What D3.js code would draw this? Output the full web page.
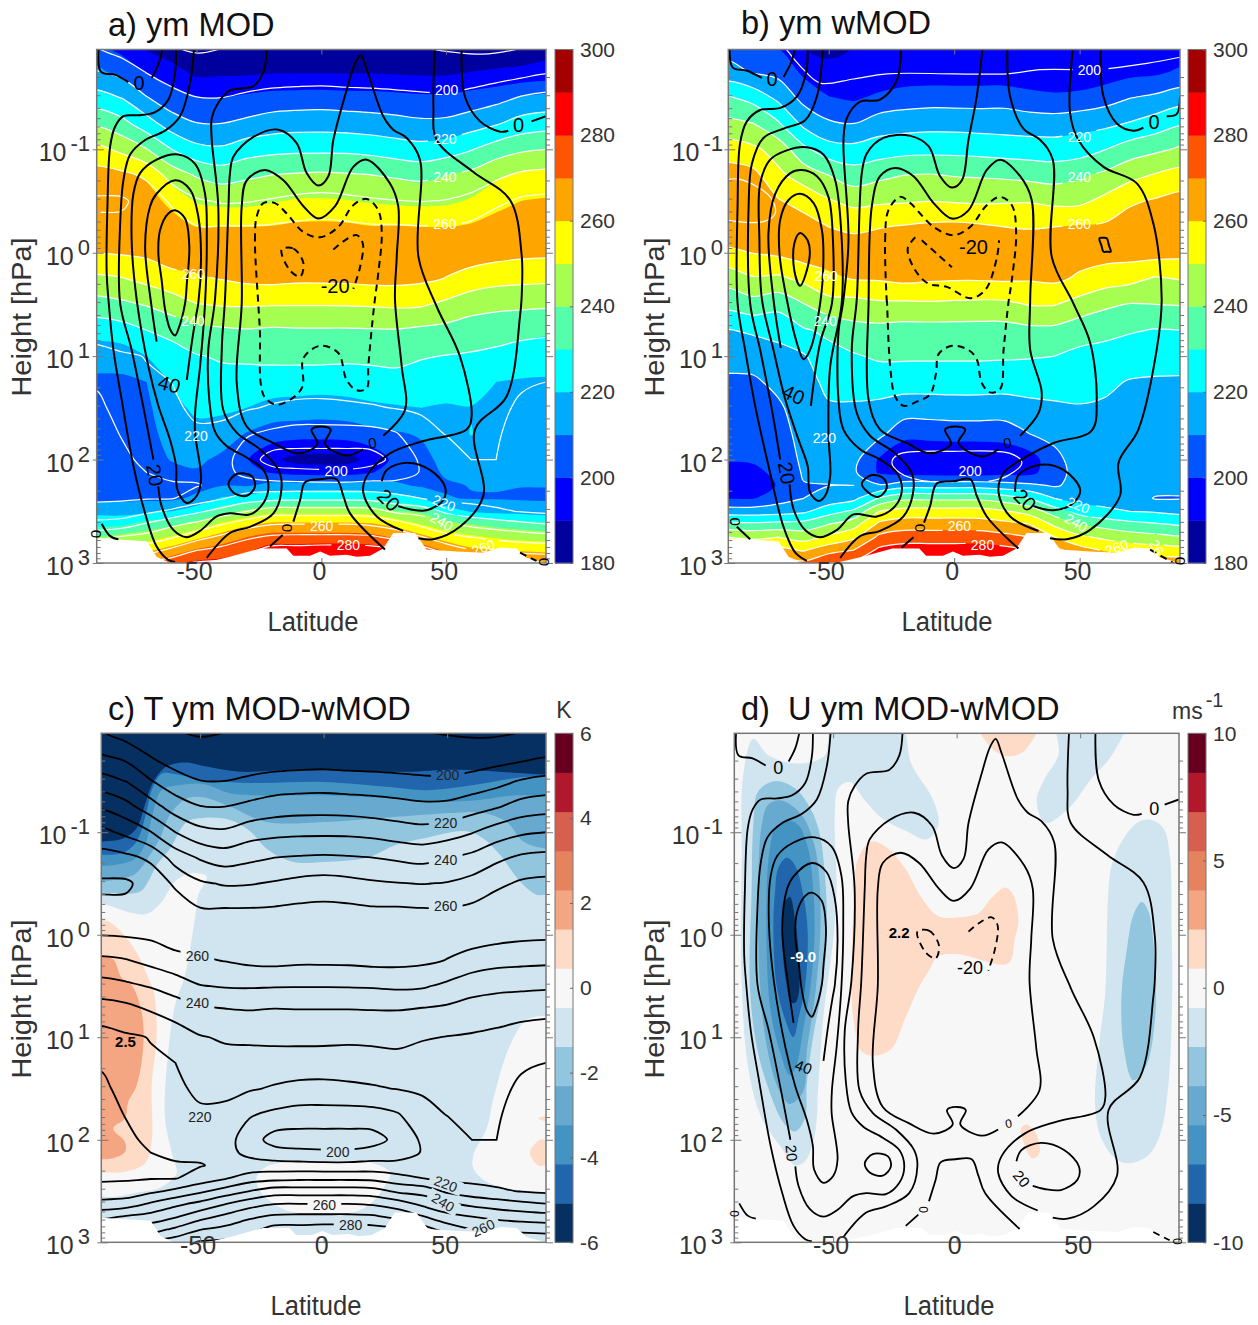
<!DOCTYPE html>
<html>
<head>
<meta charset="utf-8">
<script src="https://cdn.jsdelivr.net/npm/d3@7"></script>
<style>
  html, body { margin: 0; background: #fff; }
  text { font-family: "Liberation Sans", Arial, sans-serif; }
</style>
</head>
<body>
<svg id="fig" width="1258" height="1325"></svg>
<script>
const latCols = [-90,-80,-70,-60,-50,-40,-30,-20,-10,0,10,20,30,40,50,60,70,80,90];
const logPRows = [-2,-1.75,-1.5,-1.25,-1,-0.75,-0.5,-0.25,0,0.25,0.5,0.75,1,1.25,1.5,1.75,2,2.125,2.25,2.375,2.5,2.625,2.75,2.875,3];

// temperature by latitude column (K), top of the model to the ground
const tempA = [
[200,210.5,224,238.5,253,264,271.5,268,260.3,248,236,224,216.8,211,208,206,206,207,208,209,212.5,223.7,237,252,265],
[194,206.8,219.7,233.3,247.6,262.5,271.5,267.6,261,249.4,238,225.9,218.8,216,213,210.5,208,208,208.5,209,213.7,225,241,253.6,266],
[190,199.4,210.5,224.4,240.4,258.3,266,268,262,253,240.7,230,220.3,219,217,214,212,210,209,209.5,217.7,231.3,243.8,256,268.7],
[185,194.4,204,214.8,230,245.7,258.5,265,266,256.2,245,233,225.8,220,217.5,215,212,211,209.5,209.5,222,237.6,249,262,275.7],
[180,186,200.4,210.3,222.8,239,251.4,260.5,265,258.8,249.6,236.9,229.4,226,222.6,218,214,212,209.5,214,228,242.7,256.3,269.7,281],
[182,190,200,210,221.5,235.3,249,260.5,264,260.4,250.8,238.5,231,227,222,218,214,212.5,212,219,234,249.6,262.3,273,282],
[184,192.6,202,212.3,225.7,237.9,249.4,260.5,265,262.2,251,239.4,231.8,226,221,211,205,208,213,225,240,255.7,268.3,276.8,284],
[186,193.5,203.7,214.8,227.2,240.1,251,261,266,262.9,250.6,238.6,232.4,225.5,219,208,196,203.8,213.7,226.8,245,259.7,271.7,284,290],
[187,194,204.4,215.8,227.9,241,253,262,267,262,250.5,239,232.7,225,217.6,206,195.5,202,213.5,227.6,245,260,272.3,284,290],
[187,194.4,204.7,216,228,241.6,254,262.5,267,262,250.5,239,232.7,224.8,217.3,206,195.5,201.4,212.9,227.6,245,260,272.3,285,292],
[186,194,204,215.5,227.9,241,253,262,267,262.2,250.6,239,232,225.3,218,206,195.5,201.4,212.9,227.6,245,260,272.3,285,292],
[185,193.5,203.7,214.5,226.8,240.1,251.4,261,265,263,251,239.3,232.2,226,219,206.6,196,204,213.3,227,244,258.7,271.5,284,290],
[183,193,203,213.3,224.9,238.5,250.4,261,264,263,251.7,239.4,232,227.6,220.4,209.4,203,206,212.6,223.6,238,254.8,267.3,281,290],
[182,193,202,212,223.5,237,249.7,260.5,264,262,251.2,238,230.7,225.9,221.4,216.5,211.5,210.5,214,220,236,247.6,260.7,274.7,287],
[181,191,202,212.4,225.3,240,250.6,260.5,264,259.7,247.8,237,229.7,226.5,223.5,220.4,214.5,213,214,217,228,241.4,253.6,266,280],
[182,193,204,215.5,229.4,242.8,253.4,262,265.5,255.6,244,235,229,226.5,224,222,220,218,216.5,217,224,237.5,250,260.3,272],
[183,195,206.6,219,235,248,257.8,266,263.8,253.3,242.5,233.7,227.9,224.1,222,221,220,218,216,216,221.7,234.7,247.3,258.4,270],
[184,196.4,210.8,224,238.5,251.8,261.5,269.5,262.5,252.5,242,232.5,226.2,221,218.7,216.5,215,214,214,215.7,219.4,232.3,245.4,257.3,268],
[184,199,212.9,225.8,240,253,262.6,269.5,262,252,241.5,231.7,225.6,220,218.5,217,216,215,215,216,218,230.3,244,256.4,267.5]
];

// the shaded field of panel a sits a little off its own contour lines
const tempFillA = [
[203,212,224,238.5,253,264,268,266,260.3,248,236,224,214,208,206,204,204,205,206,207,217,227,240,254,266],
[196,207,219.7,233.3,247.6,262.5,268,266,261,249.4,238,225.9,214.5,208,206,205,205,205,206,208,216,228,244,256,268],
[188,199,210.5,224.4,240.4,258.3,265,267,262,253,240.7,230,220,210,208,207,206,206,206,208,218,234,246,258,270],
[183,194,204,214.8,230,245.7,257,265,266,256.2,245,233,226,221,217,213.5,210.5,207,206.5,208,220,238,251,264,277],
[181,187.5,200.4,210.3,222.8,239,249,260,265,258.8,249.6,236.9,229,226,222,216.8,212,209,207,212,226,244,258,271,282],
[182,188,200,210,221.5,235.3,247,260,264,260.4,250.8,238.5,231,227,222,215,208,207,209.5,221,236,252,264,275,283],
[183,188,202,212.3,225.7,237.9,247,260,265,262.2,251,239.4,231.8,226,220,209.5,201,203,209,224,242,258,270,278,285],
[184,189,203.7,214.8,227.2,240.1,249,260.5,266,262.9,250.6,238.6,232.4,225.5,217,205,192,199.5,213,228,247,262,274,285,291],
[185,189,204.4,215.8,227.9,241,251,262,267,262,250.5,239,232.7,225,216,204,187,197,214,229,247,262,274,285,292],
[185,189,204.7,216,228,241.6,251,262.5,267,262,250.5,239,232.7,224.8,215,204,186,196,215,229,247,262,274,286,294],
[184,189,204,215.5,227.9,241,250.5,262,267,262.2,250.6,239,232,225.3,216,204.5,186.5,196,215,229,247,262,274,286,294],
[183,189,203.7,214.5,226.8,240.1,249,260.5,265,263,251,239.3,232.2,226,218,207,193,199.5,214,228,246,261,273,285,291],
[182,188.5,203,213.3,224.9,238.5,248,260.5,264,263,251.7,239.4,232,227.6,219,209,203,204.5,212,225,240,257,269,282,291],
[181,188,202,212,223.5,237,247.5,260,264,262,251.2,238,230.7,225.9,220,211,207,207,208.5,220,238,250,263,276,288],
[181,188,202,212.4,225.3,240,248,260,264,259.7,247.8,237,229.7,225,219,216,213,211,209,210.5,226,244,256,268,281],
[182,190,204,215.5,229.4,242.8,251,261.5,265.5,255.6,244,235,229,226,219.5,220.3,216,213,210.3,209.5,219,240,252,262,273],
[183,191,206.6,219,235,248,256,265,263.8,253.3,242.5,233.7,227.9,220,218,216,214,212,210.5,209.5,217,237,249,260,271],
[183,192,210.8,224,238.5,251.8,260,268,262.5,252.5,242,232.5,226.2,219,217,215,213,212,210.2,209,216,235,247,259,269],
[186,193,212.9,225.8,240,253,261,268,262,252,241.5,231.7,224,219,217,215,213,212,210.2,209,214,233,246,258,269]
];

const tempB = [
[205,214,231,242.5,255,265,268,267,258,244,233,219.5,213,208.5,206,203.5,200.4,198,197,199.5,215,233,250,262,272],
[200,209,226.5,240,252,263,268,268,260.3,249,236,221.5,214,208.5,206,204,201,198,196.5,199.5,215,232,248,260,270],
[199,207,217.4,231,246,252,260.8,266,262,248,233,223,216.8,212.5,208.5,206,203.5,202,200.5,205.5,216,233,250,263,274],
[190,198,206.8,217.5,232.5,246,256,264.8,265,252.5,239.5,229,219,216.5,215,213.5,212,211,209.5,210,218,234,246,259,272],
[188,192,200.5,211.5,224,240,251,260,264.5,258,246,232,226.8,222.2,219,216.5,213.5,212,209.8,214,226,240,252,266,280],
[190,192.5,198.5,210,223,234.6,247,258.6,264,260.6,246,236.7,229,223,219,216,213,211.5,210,217.5,232,246,258,270,282],
[190,192.5,202,215,225,237.5,248.5,259.6,265,261,248,237,231.5,224,218,212.8,199,199,211,231,250,262,272,282,290],
[190,193,204.9,215.9,226.5,240,249,260.8,266,262.6,248,236,231.5,224,215.5,203.3,191,196,216,238,254,265.5,275,285,290],
[190,193.5,205.7,216.6,227,240.6,249.8,262,267,261.5,248.5,236,231.4,224,215.5,203.3,191,195.5,216,238,254,265.5,275,285,291],
[190,193.5,205.6,216.5,227,239.5,249.2,262.5,267,261,248,236,231.4,224,216,204,191,195,216,238,254,265.5,275,285,291],
[190,193.5,205.6,216,226.5,239,248.6,261.5,267,261,247.6,236,231.4,224,216,204,191,195,216,238,254,265,275,285,291],
[190,193,206,215.7,225.5,238.3,249,260,265.5,261.5,247.8,236,231.2,223.5,216,204,193,197,214,235,251,263,273,283,289],
[190,192,203.6,215,225,237,249.3,259.5,265,261,250.5,237.5,230.7,224,217.5,210,195,197,212,230,246,260,270,280,288],
[190,192,202,215,224.5,236,247.5,260,264.5,262,250.5,237.5,230,224,218.5,213,207,206,209,220,235,248,260,273,286],
[190,192,203,216.5,225.5,238.5,247.7,261,264,258.5,246,234,227.7,222.8,219.5,217,215,214,213,216,226,240,252,264,277],
[190,194,206,217.5,229.7,242.1,252.7,261.5,264,255,241.8,232.8,226.3,221.5,219,217,215,214.5,214,216,222,236,248,259,270],
[190,197,209.7,220.7,235,247,258.5,265,264,253,239.5,231,224,219.5,218,216.5,215,214.5,214,215,220,233,245,256,268],
[191,198,212,224.5,238,250.8,261,265.5,264,249,240,229.4,223.6,219,218,217,215.5,214,213,209.5,219,231,243,255,266],
[193,201.5,215.5,229,241.3,254,263.5,267,263,250.5,240.5,229.9,223,219,218,216.5,215,214,212,209.5,217,229,241,254,265]
];

// short isotherms that fall outside the shaded grid, as [lat, log10 hPa]
const isoExtraA = [
  [[-57.5,-1.98],[-49.4,-1.93],[-39.3,-1.98]],
  [[40.4,-1.98],[64.6,-1.92],[80.8,-1.98]]
];
const isoExtraB = [
  [[-67.3,-1.98],[-60,-1.77],[-53.4,-1.64],[-40.1,-1.68],[-26.8,-1.73],[-0.3,-1.73],[21,-1.73],[34.3,-1.77],[47.5,-1.77]],
  [[61.5,-1.78],[76.8,-1.83],[90,-1.89]],
  [[-0.3,2.22],[-13.5,2.2],[-21.5,2.13],[-24.8,2.03],[-22.2,1.95],[-0.3,1.92],[22.3,1.94],[27,2.03],[21,2.16],[13.7,2.21]],
  [[-92,-0.7],[-85.3,-0.71],[-73.3,-0.54],[-71.3,-0.38],[-76,-0.3],[-92,-0.32]]
];

// zonal wind contours: level, closed?, [lat, log10 hPa] ...
const uLinesA = [
[0,0,[[-89.3,-1.96],[-88.3,-1.75],[-82.6,-1.72],[-77.3,-1.65]]],
[0,0,[[-68,-1.69],[-65.3,-1.82],[-63.6,-1.98]]],
[20,0,[[-58.2,-1.98],[-58.6,-1.74],[-61.3,-1.48],[-66.6,-1.36],[-72.6,-1.33],[-79.3,-1.32],[-82.6,-1.22],[-84.6,-1.03],[-85.7,-0.45],[-86,0.2],[-85.3,0.45],[-83.3,0.94],[-80,1.42],[-75.3,2.06],[-70.6,2.52],[-66,2.84],[-61.3,2.97],[-58.6,2.99]]],
[20,0,[[-51,-1.98],[-52.6,-1.64],[-56.6,-1.32],[-62.6,-1.18],[-70.6,-1.09],[-76.6,-0.95],[-79.3,-0.7],[-80.6,-0.28],[-80.6,0.49],[-76,0.94],[-70.6,1.58],[-67.3,2]]],
[20,0,[[-65.3,2.26],[-64,2.45],[-59.3,2.68],[-53.9,2.75],[-48.6,2.69],[-41.9,2.55],[-36.6,2.52],[-28.6,2.53],[-23.2,2.42],[-21.2,2.26],[-23.2,2.1],[-29.9,1.98],[-37.9,1.87],[-42.6,1.73],[-44.9,1.42],[-45.3,0.94],[-42.6,0.45],[-41.3,-0.45],[-43.9,-1.09],[-43.9,-1.3],[-41.3,-1.45],[-36.6,-1.57],[-27.2,-1.61],[-23.2,-1.75],[-21.9,-1.98]]],
[40,1,[[-75.3,-0.57],[-72.6,-0.77],[-66,-0.9],[-57.3,-0.95],[-50.6,-0.86],[-46.6,-0.57],[-45.9,-0.12],[-46.6,0.49],[-48.6,1.1],[-50.5,1.52],[-50.6,1.74],[-48.2,2.19],[-49.9,2.35],[-53.9,2.42],[-57.7,2.29],[-58.2,2.06],[-60.6,1.81],[-65.3,1.48],[-69.3,1.1],[-74,0.45],[-76,-0.12]]],
[40,0,[[-66,0.86],[-68.2,0.49],[-70.6,-0.06],[-68.6,-0.45],[-66,-0.57],[-58.6,-0.7],[-52.6,-0.61],[-49.3,-0.35],[-48.2,0.04],[-49.3,0.49],[-50.2,0.61],[-51.9,0.87],[-53.9,1.23]]],
[60,1,[[-65.3,0.01],[-64.6,-0.22],[-61.3,-0.38],[-58.6,-0.41],[-54.6,-0.33],[-52.9,-0.06],[-53.9,0.3],[-54.6,0.49],[-57.3,0.74],[-58.6,0.8],[-60.6,0.74],[-62.6,0.55],[-64,0.26]]],
[0,0,[[-45.9,2.95],[-36.6,2.71],[-28.6,2.65],[-19.2,2.52],[-15.9,2.26],[-17.2,2.1],[-24.6,1.9],[-33.9,1.74],[-39.3,1.52],[-39.9,0.94],[-38.6,0.45],[-37.2,-0.45],[-36.6,-0.77],[-35.2,-0.93],[-27.2,-1.12],[-17.2,-1.19],[-9.9,-1.06],[-5.9,-0.77],[-1.2,-0.65],[2.8,-0.74],[4.8,-1.09],[10.1,-1.57],[13.5,-1.83],[15.8,-1.91],[18.2,-1.77],[24.8,-1.32],[28.8,-1.19],[34.2,-1.11],[39.5,-0.9],[38.9,0.04],[46.2,0.52],[55.5,1],[60.2,1.58],[58.2,1.71],[40.9,1.82],[27.5,1.94],[18.2,2.16],[16.8,2.32],[22.2,2.55],[32.8,2.69]]],
[0,0,[[38.9,2.76],[44.9,2.77],[55.5,2.65],[64.9,2.35],[61.5,1.71],[74.2,1.39],[79.6,0.61],[80.2,0.45],[80.2,0.01],[75.6,-0.51],[60.9,-0.78],[46.2,-1.09],[44.9,-1.41],[45.5,-1.98]]],
[0,0,[[24.8,1.77],[33.5,1.52],[32.2,1.1],[29.5,0.45],[30.2,0.04],[30.8,-0.45],[27.5,-0.67],[18.2,-0.9],[12.8,-0.83],[5.5,-0.45],[-1.2,-0.33],[-7.2,-0.45],[-15.2,-0.7],[-22.6,-0.8],[-29.9,-0.7],[-31.9,-0.45],[-31.9,0.49],[-33.9,1.26],[-29.9,1.68],[-19.2,1.84],[-9.2,1.94],[-1.6,1.85],[-3.9,1.71],[0.1,1.68],[3.7,1.71],[1.5,1.85],[10.1,1.96],[16.8,1.9]]],
[60,1,[[-37.2,2.23],[-33.9,2.14],[-27.9,2.16],[-26.6,2.26],[-29.9,2.35],[-35.2,2.32]]],
[20,0,[[24.2,2.21],[26.2,2.1],[34.2,2.03],[43.5,2.1],[49.5,2.26],[48.9,2.39],[42.2,2.49],[35.5,2.48],[30.8,2.45]]],
[-20,1,[[-25.2,0.52],[-26.6,-0.12],[-25.9,-0.35],[-23.2,-0.48],[-18.6,-0.48],[-13.9,-0.38],[-7.2,-0.2],[-0.5,-0.15],[6.8,-0.25],[12.8,-0.46],[18.2,-0.52],[22.8,-0.41],[24.2,-0.19],[22.8,0.2],[21.1,0.52],[18.8,1.1],[18.2,1.31],[14.2,1.33],[10.1,1.23],[6.8,0.97],[-0.5,0.9],[-7.2,1.02],[-7.5,1.29],[-11.2,1.4],[-17.9,1.47],[-22.6,1.4],[-24.3,1.26],[-24.6,0.77]]],
[-20,1,[[-15.9,-0.03],[-11.2,-0.04],[-7.2,0.1],[-8.5,0.23],[-12.6,0.17]]],
[-20,0,[[4.8,-0.03],[8.8,-0.11],[14.2,-0.17],[16.6,-0.09],[15.5,0.14],[12.8,0.35]]],
[0,0,[[25.5,2.87],[11.5,2.52],[8.8,2.35],[6.1,2.19],[-0.5,2.19],[-6.5,2.22],[-8.5,2.39],[-11.2,2.6]]],
[0,0,[[-15.5,2.73],[-20.6,2.84]]],
[0,0,[[56.2,-1.98],[57.5,-1.51],[63.6,-1.27],[71.6,-1.17],[74.9,-1.18]]],
[0,0,[[84.2,-1.27],[90,-1.32]]],
[0,0,[[-88,2.62],[-84.6,2.74],[-81.3,2.77]]],
[-20,0,[[79.6,2.9],[86.2,2.98]]]
];

const uLinesB = [
[0,0,[[-89.5,-1.96],[-88.2,-1.79],[-82.6,-1.76],[-76.6,-1.69]]],
[0,0,[[-68,-1.7],[-65.1,-1.83],[-63.3,-1.98]]],
[20,0,[[-58.4,-1.98],[-59,-1.74],[-62.7,-1.51],[-69.3,-1.4],[-77.3,-1.38],[-82.6,-1.27],[-85.3,-1.06],[-86.3,-0.45],[-86.3,0.49],[-83.3,0.94],[-79.3,1.48],[-74,2.06],[-68,2.65],[-63.3,2.9],[-58.7,2.98]]],
[20,0,[[-52.3,-1.98],[-54.7,-1.51],[-59.4,-1.28],[-68,-1.2],[-76,-1.11],[-80.6,-0.86],[-81.9,-0.45],[-81.3,0.49],[-77.3,0.94],[-72.6,1.52],[-69.3,2]]],
[20,0,[[-65.6,2.24],[-64,2.48],[-59.4,2.68],[-53.4,2.75],[-46.7,2.68],[-40.1,2.53],[-30.8,2.55],[-23.5,2.45],[-20.8,2.29],[-22.8,2.13],[-29.5,2],[-37.5,1.9],[-44.1,1.71],[-46.1,1.42],[-46.1,0.77],[-44.1,0.45],[-42.1,-0.12],[-44.1,-1.09],[-42.8,-1.3],[-37.5,-1.46],[-29.5,-1.48],[-22.8,-1.67],[-21.2,-1.98]]],
[40,1,[[-77.3,-0.67],[-73.3,-0.9],[-66.7,-0.99],[-58.7,-1.02],[-52.1,-0.95],[-47.4,-0.7],[-44.8,-0.12],[-44.8,0.49],[-49.4,1.1],[-50.1,1.74],[-49.4,2.16],[-51.4,2.35],[-54,2.4],[-57.4,2.32],[-58.4,2.06],[-62,1.81],[-67.3,1.42],[-72,0.94],[-76.6,0.45],[-77.6,-0.12]]],
[40,0,[[-69.1,0.92],[-72,0.45],[-74,-0.19],[-71.3,-0.57],[-65.3,-0.77],[-60.7,-0.8],[-54.7,-0.74],[-50.1,-0.54],[-48.3,-0.12],[-48.7,0.49],[-53.4,0.87],[-57.1,1.48]]],
[60,1,[[-69.3,-0.32],[-66,-0.51],[-61.4,-0.57],[-56,-0.48],[-52.7,-0.22],[-52.1,0.07],[-53.4,0.49],[-57.4,0.94],[-60,1.03],[-62.7,0.87],[-66.7,0.45],[-69.6,0.01]]],
[80,1,[[-61.4,-0.19],[-58.4,-0.12],[-57.6,0.04],[-61.4,0.32],[-63.7,0.17],[-63.7,-0.09]]],
[0,0,[[-45.4,2.95],[-37.5,2.74],[-29.5,2.69],[-20.2,2.55],[-16.2,2.29],[-16.9,2.13],[-23.5,1.94],[-33.5,1.77],[-38.8,1.55],[-40.8,0.94],[-38.8,0.45],[-36.8,-0.77],[-34.8,-0.96],[-28.2,-1.11],[-17.5,-1.13],[-10.2,-1.03],[-5.6,-0.74],[-0.9,-0.63],[3.1,-0.7],[5.7,-1.09],[9,-1.51],[11.3,-1.98]]],
[0,0,[[21.2,-1.98],[22.3,-1.51],[27.6,-1.2],[34.3,-1.09],[39.3,-0.9],[38.9,0.04],[47.5,0.49],[54.2,0.87],[56.8,1.42],[54.8,1.72],[39.6,1.84],[29,1.97],[19.7,2.13],[17.7,2.32],[22.3,2.55],[33.6,2.69]]],
[0,0,[[38.2,2.76],[44.9,2.77],[54.2,2.68],[66.1,2.35],[65.5,2.03],[73.4,1.71],[80.7,0.94],[82.7,0.45],[79.4,-0.28],[72.8,-0.67],[59.5,-0.83],[49.5,-1.09],[46.2,-1.35],[47.3,-1.98]]],
[0,0,[[26.3,1.77],[33.6,1.55],[34.9,1.35],[30.3,0.94],[30.3,0.45],[30.9,-0.51],[26.3,-0.74],[18.3,-0.9],[13,-0.8],[5.7,-0.41],[-0.9,-0.33],[-8.2,-0.48],[-16.2,-0.74],[-23.5,-0.82],[-29.5,-0.74],[-32.8,-0.45],[-34.1,0.49],[-34.1,1.42],[-29.5,1.71],[-18.9,1.84],[-9.6,1.94],[-1.3,1.85],[-3.6,1.71],[0.4,1.68],[4.4,1.71],[1.7,1.84],[11,1.97],[17.7,1.9]]],
[60,1,[[-36.8,2.23],[-32.8,2.15],[-28.2,2.18],[-26.8,2.27],[-30.1,2.36],[-34.1,2.32]]],
[20,0,[[24.3,2.31],[25.6,2.15],[34.3,2.05],[43.6,2.1],[50.2,2.29],[47.5,2.42],[39.6,2.49],[31.6,2.45]]],
[-20,1,[[-26.8,0.49],[-27.5,-0.12],[-26.2,-0.41],[-21.5,-0.54],[-17.5,-0.48],[-8.2,-0.25],[-0.3,-0.17],[6.4,-0.25],[13,-0.46],[18.3,-0.54],[23,-0.46],[24.7,-0.19],[23,0.26],[21.6,0.49],[19.7,0.94],[18.3,1.32],[14.3,1.35],[11,1.26],[9,1.03],[5.7,0.94],[-0.9,0.9],[-6.2,0.98],[-7.2,1.16],[-9.6,1.37],[-14.9,1.44],[-20.2,1.48],[-23.5,1.39],[-25.5,1.1],[-26.8,0.45]]],
[-20,0,[[-12.9,-0.12],[-6.9,0.01],[-0.9,0.14]]],
[-20,0,[[-15.5,-0.15],[-18.5,-0.04],[-15.5,0.17],[-10.2,0.3],[-2.9,0.33],[6.4,0.44],[12.4,0.36],[17,0.05],[17.9,-0.12]]],
[0,1,[[57.9,-0.14],[59.4,-0.145],[60.8,-0.14],[61.7,-0.07],[62.4,-0.01],[61,-0.01],[59.5,-0.01],[58.7,-0.07]]],
[0,0,[[25.6,2.86],[13,2.55],[9,2.35],[6.4,2.19],[-0.3,2.21],[-6.9,2.23],[-9.6,2.45],[-12,2.61]]],
[0,0,[[-16.2,2.75],[-20.9,2.85]]],
[0,0,[[58.4,-1.98],[59.5,-1.51],[64.8,-1.25],[71.4,-1.18],[75.4,-1.21]]],
[0,0,[[84.7,-1.32],[88.7,-1.34],[90,-1.51]]],
[0,0,[[-86.6,2.65],[-81.3,2.77]]],
[-20,0,[[78.1,2.87],[87.4,3]]]
];

// contour labels: text, lat, log10 hPa, rotation
const tLabelsA = [['200',50.2,-1.57,0],['220',49.5,-1.1,0],['240',49.5,-0.73,0],['260',49.5,-0.28,0],['260',-51.3,0.21,0],['240',-51.5,0.66,0],['220',-50.2,1.77,0],['200',5.9,2.11,0],['220',49.1,2.42,22],['240',48.2,2.6,30],['260',0.1,2.64,0],['280',10.8,2.83,0],['260',64.9,2.85,-20]];
const tLabelsB = [['200',53.9,-1.77,0],['220',49.9,-1.12,0],['240',49.9,-0.73,0],['260',49.9,-0.28,0],['260',-51,0.22,0],['240',-51.4,0.66,0],['220',-51.7,1.79,0],['200',6.4,2.11,0],['220',49.5,2.44,22],['240',48.6,2.61,30],['260',2.1,2.64,0],['280',11.3,2.83,0],['260',64.8,2.85,-20],['26',80.7,2.85,60]];
const tLabelsC = [['200',50.2,-1.56,0],['220',49.4,-1.09,0],['240',49.4,-0.73,0],['260',49.4,-0.28,0],['260',-51.1,0.21,0],['240',-51.1,0.67,0],['220',-50.1,1.78,0],['200',5.7,2.12,0],['220',49.4,2.43,20],['240',48.4,2.61,30],['260',0.3,2.64,0],['280',10.9,2.83,0],['260',64.6,2.86,-25]];
const uLabelsA = [['0',-73,-1.64,0],['0',79,-1.24,0],['-20',5.5,0.32,0],['40',-60.9,1.27,15],['20',-66.6,2.15,80],['20',27,2.39,45],['0',20.5,1.84,-10],['0',-13.6,2.66,90],['0',-90.2,2.72,90],['0',89.2,2.99,90]];
const uLabelsB = [['0',-72.6,-1.68,0],['0',79.7,-1.27,0],['-20',7.7,-0.06,0],['40',-64,1.37,25],['20',-66.7,2.13,80],['20',28.3,2.39,45],['0',21.2,1.84,-10],['0',-13.5,2.66,90],['0',-87.3,2.6,90],['0',90,2.98,90]];
const uLabelsD = [['0',-72.2,-1.63,0],['0',80,-1.23,0],['-20',5.4,0.32,0],['40',-62,1.29,20],['20',-66.8,2.13,85],['20',26.3,2.38,50],['0',21,1.84,-10],['0',-13.5,2.68,90],['0',-90,2.72,90],['0',89.5,2.99,90]];

// ground height, shown white in every panel
const surfaceLat = [-90,-70,-66,-60.6,-47.3,-36.6,-24.6,-13.9,-11.2,-4.5,-0.5,3.5,10.1,14.2,19.5,24.8,28.8,37.5,42.2,54.2,64.9,71.6,78.2,82.2,90];
const surfaceLogP = [2.76,2.79,2.94,3,3,2.94,2.86,2.86,2.93,2.93,2.89,2.93,2.92,2.94,2.93,2.86,2.71,2.71,2.87,2.89,2.9,2.85,2.86,2.95,3];

const tempBands = ['#00009f','#0000ff','#0055ff','#00aaff','#00ffff','#55ffaa','#a6ff50','#ffff00','#ffa500','#ff5500','#ff0000','#a50000'];
const tempThresholds = [190,200,210,220,230,240,250,260,270,280,290];
const diffBands = ['#053061','#2166ac','#4393c3','#67a9cf','#92c5de','#d1e5f0','#f7f7f7','#fddbc7','#f4a582','#e5835f','#d6604d','#b2182b','#67001f'];

// difference patches: colour band index (0 = strongest cooling), outline as [lat, log10 hPa]
const diffPatchesT = [
[6,[[-92,-0.32],[-90,-0.31],[-72.3,-0.2],[-65.6,-0.32],[-60.2,-0.52],[-54.1,-0.6],[-47.4,-0.57],[-50.7,-0.39],[-52.1,-0.16],[-56.1,0.39],[-60.2,0.69],[-62.9,1.14],[-64.2,1.79],[-60.9,2.18],[-59.5,2.33],[-65.6,2.46],[-74.4,2.51],[-92,2.51]]],
[6,[[-27.1,2.36],[-23.1,2.26],[-0.1,2.21],[20.1,2.23],[26.9,2.33],[24.2,2.47],[20.1,2.6],[13.4,2.7],[-0.1,2.72],[-13.6,2.7],[-23.1,2.57],[-26.5,2.47]]],
[6,[[90,0.79],[82.2,0.83],[75.4,1.08],[68.7,1.6],[66,1.89],[60.6,2.15],[60.6,2.28],[66,2.41],[74.1,2.47],[90,2.51],[93,2.51],[93,0.79]]],
[7,[[-92,-0.15],[-90,-0.15],[-85.8,-0.11],[-79.8,0.03],[-74.4,0.23],[-71,0.42],[-68.7,0.56],[-67.6,0.98],[-69.6,1.47],[-69.6,2.02],[-72.3,2.23],[-79.8,2.31],[-90,2.32],[-92,2.32]]],
[8,[[-92,0.21],[-90,0.21],[-85.2,0.24],[-81.8,0.42],[-77.7,0.49],[-73.7,0.75],[-73,1.08],[-75.7,1.47],[-79.1,1.63],[-80.4,1.79],[-85.2,1.89],[-80.4,2.02],[-80.4,2.12],[-85.2,2.18],[-90,2.19],[-92,2.19]]],
[7,[[86.9,1.79],[90,1.77],[92,1.8],[90,1.82]]],
[7,[[83.5,2.12],[87.6,2],[90,2],[92,2],[92,2.25],[90,2.25],[86.9,2.25]]],
[4,[[-93,-0.41],[-90,-0.41],[-74.4,-0.42],[-71,-0.52],[-67.6,-0.68],[-62.2,-0.84],[-55.5,-1.1],[-48.7,-1.14],[-37.9,-1.12],[-29.8,-1.01],[-23.1,-0.84],[-12.3,-0.71],[-0.1,-0.71],[17.4,-0.75],[29.6,-0.88],[40.4,-0.94],[57.9,-1.01],[64.6,-0.94],[71.4,-0.78],[79.5,-0.52],[86.2,-0.39],[90,-0.39],[93,-0.39],[93,-2.3],[-93,-2.3]]],
[3,[[-93,-0.52],[-90,-0.52],[-77.1,-0.58],[-73,-0.68],[-70.3,-0.78],[-66.3,-0.94],[-62.2,-1.17],[-55.5,-1.33],[-48.7,-1.34],[-37.9,-1.25],[-23.1,-1.1],[-0.1,-1.1],[13.4,-1.12],[40.4,-1.17],[53.8,-1.19],[64.6,-1.19],[74.1,-1.1],[80.8,-0.91],[90,-0.84],[93,-0.84],[93,-2.3],[-93,-2.3]]],
[2,[[-93,-0.67],[-90,-0.67],[-77.1,-0.73],[-72.3,-0.88],[-69.6,-1.14],[-65.6,-1.41],[-58.2,-1.46],[-48.7,-1.47],[-37.9,-1.38],[-27.1,-1.36],[-0.1,-1.36],[26.9,-1.33],[41.7,-1.3],[60.6,-1.31],[78.1,-1.36],[90,-1.35],[93,-1.35],[93,-2.3],[-93,-2.3]]],
[1,[[-93,-0.78],[-90,-0.78],[-81.1,-0.8],[-75.7,-0.91],[-71.7,-1.2],[-69.6,-1.41],[-65.6,-1.57],[-60.9,-1.57],[-48.7,-1.51],[-27.1,-1.48],[-0.1,-1.49],[26.9,-1.44],[41.7,-1.41],[60.6,-1.46],[78.1,-1.53],[90,-1.55],[93,-1.55],[93,-2.3],[-93,-2.3]]],
[0,[[-93,-0.91],[-90,-0.91],[-81.1,-0.94],[-75.7,-1.04],[-72.3,-1.27],[-69,-1.49],[-63.6,-1.64],[-56.1,-1.68],[-47.4,-1.64],[-33.9,-1.59],[-13.6,-1.61],[13.4,-1.6],[33.6,-1.59],[53.8,-1.61],[90,-1.56],[93,-1.56],[93,-2.3],[-93,-2.3]]]
];

const diffPatchesU = [
[5,[[-87,0.49],[-87,-0.75],[-86.4,-1.56],[-82.3,-1.91],[-76.2,-1.75],[-68.2,-1.68],[-60.1,-1.68],[-53.3,-1.75],[-49.9,-2.1],[-23.6,-2.1],[-18.2,-1.66],[-9.4,-1.31],[-7.4,-1.07],[-12.1,-0.93],[-20.2,-1.01],[-30.4,-1.14],[-37.1,-1.31],[-43.2,-1.49],[-47.9,-1.43],[-49.3,-1.2],[-48.6,-0.42],[-49.9,0.03],[-54,0.82],[-56,1.47],[-57.4,1.95],[-61.4,2.21],[-65.5,2.25],[-70.9,2.08],[-78.9,1.79],[-84.3,1.31]]],
[4,[[-83,-0.42],[-82.3,-1.07],[-80.3,-1.4],[-73.5,-1.5],[-65.5,-1.43],[-60.1,-1.27],[-56,-1.04],[-53.3,-0.58],[-52.6,0.06],[-54.7,0.55],[-58,0.98],[-60.7,1.47],[-61.4,1.79],[-65.5,1.92],[-70.2,1.83],[-76.2,1.5],[-81,1.08],[-83.7,0.49]]],
[3,[[-80.3,-0.42],[-78.9,-1.07],[-76.2,-1.27],[-70.9,-1.31],[-62.8,-1.17],[-58,-0.91],[-56,-0.65],[-55.1,-0.1],[-57.1,0.55],[-60.7,1.14],[-62.1,1.53],[-67.5,1.65],[-72.2,1.5],[-76.9,1.08],[-79.6,0.49]]],
[2,[[-76.9,-0.42],[-75.6,-0.84],[-73.5,-1.04],[-68.8,-1.12],[-64.1,-1.07],[-60.1,-0.84],[-58,-0.42],[-57.6,0.06],[-59.4,0.55],[-62.1,0.92],[-64.8,1.27],[-67.5,1.37],[-71.5,1.14],[-75.6,0.69]]],
[1,[[-74.2,-0.1],[-73.5,-0.42],[-72.2,-0.65],[-68.8,-0.75],[-65.5,-0.68],[-62.1,-0.39],[-60.3,-0.03],[-61.4,0.52],[-63.8,0.79],[-66.1,1],[-69.5,0.82],[-72.9,0.49]]],
[0,[[-70.6,-0.1],[-69.5,-0.32],[-67.5,-0.37],[-65.5,-0.16],[-63.8,0.23],[-63.8,0.55],[-65.2,0.66],[-67.1,0.66],[-68.8,0.49],[-70.2,0.23]]],
[5,[[41.2,-2.1],[68.2,-2.1],[62.8,-1.75],[54.7,-1.53],[45.2,-1.23],[35.8,-1.09],[32.4,-1.31],[35.8,-1.53],[41.2,-1.75]]],
[5,[[78.9,-1.12],[73.5,-1.1],[66.8,-0.91],[62.8,-0.68],[61.4,-0.42],[60.1,0.58],[58,1],[56,1.63],[58,1.95],[64.1,2.18],[69.5,2.23],[77.6,2.15],[82.3,1.95],[85.7,1.47],[87.3,0.49],[87,-0.1],[86.4,-0.75],[83.7,-1.04]]],
[4,[[74.9,-0.32],[71.5,-0.19],[68.8,0.16],[66.8,0.55],[67.5,1.08],[71.5,1.42],[76.9,1.27],[80.3,0.82],[80.6,0.49],[79.6,0.06],[77.6,-0.23]]],
[7,[[8.1,-2.1],[14.2,-1.82],[20.9,-1.74],[27.7,-1.8],[33.1,-2.1]]],
[7,[[-34.4,-0.91],[-39.8,-0.75],[-41.4,-0.42],[-42.5,0.58],[-41.8,0.82],[-38.5,1.14],[-33.1,1.18],[-26.3,1.11],[-20.9,0.82],[-14.8,0.49],[-11.5,0.36],[-7.4,0.21],[0.7,0.19],[20.9,0.28],[23.6,0.03],[25,-0.13],[22.9,-0.39],[19.6,-0.46],[14.2,-0.36],[8.8,-0.21],[0.7,-0.17],[-7.4,-0.18],[-14.2,-0.36],[-20.9,-0.65],[-27.7,-0.84]]],
[7,[[26,1.89],[28.3,1.85],[31.7,1.92],[33.7,2.08],[33.1,2.15],[30.4,2.18],[27,2.02]]]
];

const tempTicks = [180,200,220,240,260,280,300];
const diffTicksT = [-6,-4,-2,0,2,4,6];
const diffTicksU = [-10,-5,0,5,10];
const latTicks = [-50,0,50];
const decades = [0.1,1,10,100,1000];

const svg = d3.select('#fig');
const topHpa = Math.pow(10, -1.965);
const rowIndex = d3.range(logPRows.length);
const colIndex = d3.range(latCols.length);
const rowToLog = d3.scaleLinear().domain(rowIndex).range(logPRows);
const colToLat = d3.scaleLinear().domain(colIndex).range(latCols);

// stretch edge cells past the frame so contour borders end up outside the clip
function fieldContours(columns, thresholds) {
    const nx = columns.length + 2, ny = columns[0].length + 2;
    const values = new Array(nx * ny);
    for (let j = 0; j < ny; j++) {
        const r = Math.min(columns[0].length - 1, Math.max(0, j - 1));
        for (let i = 0; i < nx; i++) {
            const c = Math.min(columns.length - 1, Math.max(0, i - 1));
            values[j * nx + i] = columns[c][r];
        }
    }
    return d3.contours().size([nx, ny]).thresholds(thresholds)(values);
}

function contourPath(contour, x, y) {
    const ringLine = d3.line().curve(d3.curveCatmullRomClosed.alpha(0.5));
    const parts = [];
    contour.coordinates.forEach(polygon => {
        polygon.forEach(ring => {
            const pts = ring.slice(0, -1).map(p => [
                x(colToLat(p[0] - 1.5)),
                y(Math.pow(10, rowToLog(p[1] - 1.5)))
            ]);
            parts.push(ringLine(pts));
        });
    });
    return parts.join('');
}

function drawPanel(p) {
    const x = d3.scaleLinear().domain([-90, 90]).range([p.left, p.right]);
    const y = d3.scaleLog().domain([topHpa, 1000]).range([p.top, p.bottom]);
    const g = svg.append('g');

    const clipId = 'clip-' + p.id;
    svg.append('clipPath').attr('id', clipId).append('rect')
        .attr('x', p.left).attr('y', p.top)
        .attr('width', p.right - p.left).attr('height', p.bottom - p.top);
    const plot = g.append('g').attr('clip-path', 'url(#' + clipId + ')');

    // shading
    if (p.fill) {
        plot.append('rect')
            .attr('x', p.left).attr('y', p.top)
            .attr('width', p.right - p.left).attr('height', p.bottom - p.top)
            .attr('fill', tempBands[0]);
        plot.append('g').selectAll('path')
            .data(fieldContours(p.fill, tempThresholds))
            .enter().append('path')
            .attr('d', c => contourPath(c, x, y))
            .attr('fill', (c, i) => tempBands[i + 1])
            .attr('fill-rule', 'evenodd');
    } else {
        plot.append('rect')
            .attr('x', p.left).attr('y', p.top)
            .attr('width', p.right - p.left).attr('height', p.bottom - p.top)
            .attr('fill', diffBands[p.baseBand]);
        const patchLine = d3.line()
            .x(d => x(d[0])).y(d => y(Math.pow(10, d[1])))
            .curve(d3.curveCatmullRomClosed.alpha(0.5));
        plot.append('g').selectAll('path')
            .data(p.patches)
            .enter().append('path')
            .attr('d', d => patchLine(d[1]))
            .attr('fill', d => diffBands[d[0]]);
    }

    // isotherms, with holes cut for their labels
    if (p.iso) {
        const maskId = 'mask-' + p.id;
        const mask = svg.append('mask').attr('id', maskId).attr('maskUnits', 'userSpaceOnUse')
            .attr('x', 0).attr('y', 0).attr('width', 1258).attr('height', 1325);
        mask.append('rect').attr('width', 1258).attr('height', 1325).attr('fill', '#fff');
        p.isoLabels.forEach(l => {
            const w = l[0].length * 8.6 + 8, h = 14;
            mask.append('rect')
                .attr('x', -w / 2).attr('y', -h / 2).attr('width', w).attr('height', h)
                .attr('fill', '#000')
                .attr('transform', 'translate(' + x(l[1]) + ',' + y(Math.pow(10, l[2])) + ') rotate(' + l[3] + ')');
        });
        const isoG = plot.append('g').attr('mask', 'url(#' + maskId + ')')
            .attr('fill', 'none').attr('stroke', p.isoColor).attr('stroke-width', p.isoWidth);
        isoG.selectAll('path.iso')
            .data(fieldContours(p.iso, p.isoLevels))
            .enter().append('path').attr('class', 'iso')
            .attr('d', c => contourPath(c, x, y));
        const extraLine = d3.line()
            .x(d => x(d[0])).y(d => y(Math.pow(10, d[1])))
            .curve(d3.curveCatmullRom.alpha(0.5));
        isoG.selectAll('path.extra')
            .data(p.isoExtra)
            .enter().append('path').attr('class', 'extra')
            .attr('d', extraLine);
    }

    // ground
    const ground = d3.area()
        .x((d, i) => x(surfaceLat[i]))
        .y0(p.bottom + 2)
        .y1(d => y(Math.pow(10, d)));
    plot.append('path').datum(surfaceLogP).attr('d', ground).attr('fill', '#fff');

    // wind contours
    if (p.uLines) {
        const open = d3.line().x(d => x(d[0])).y(d => y(Math.pow(10, d[1]))).curve(d3.curveCatmullRom.alpha(0.5));
        const shut = d3.line().x(d => x(d[0])).y(d => y(Math.pow(10, d[1]))).curve(d3.curveCatmullRomClosed.alpha(0.5));
        plot.append('g').selectAll('path')
            .data(p.uLines)
            .enter().append('path')
            .attr('d', d => (d[1] ? shut : open)(d[2]))
            .attr('fill', 'none')
            .attr('stroke', '#000')
            .attr('stroke-width', p.uWidth)
            .attr('stroke-dasharray', d => d[0] < 0 ? '7,5' : null);
    }

    // frame and ticks
    const minor = y.ticks().filter(v => v >= topHpa && decades.indexOf(v) < 0);
    const tickAxis = [
        d3.axisLeft(y).tickValues(minor).tickSize(-4),
        d3.axisLeft(y).tickValues(decades).tickSize(-7)
    ];
    tickAxis.forEach(a => {
        const left = g.append('g').attr('transform', 'translate(' + p.left + ',0)').call(a.tickFormat(''));
        left.select('.domain').remove();
        const right = g.append('g').attr('transform', 'translate(' + p.right + ',0)')
            .call(d3.axisRight(y).tickValues(a.tickValues()).tickSize(-a.tickSize()).tickFormat(''));
        right.select('.domain').remove();
    });
    const outer = g.append('g').attr('transform', 'translate(' + p.left + ',0)')
        .call(d3.axisLeft(y).tickValues(decades).tickSize(4).tickFormat(''));
    outer.select('.domain').remove();
    const topTicks = g.append('g').attr('transform', 'translate(0,' + p.top + ')')
        .call(d3.axisTop(x).tickValues(latTicks).tickSize(-5).tickFormat(''));
    topTicks.select('.domain').remove();
    const botTicks = g.append('g').attr('transform', 'translate(0,' + p.bottom + ')')
        .call(d3.axisBottom(x).tickValues(latTicks).tickSize(-5).tickFormat(''));
    botTicks.select('.domain').remove();
    g.selectAll('.tick line').attr('stroke', '#777').attr('stroke-width', 1);
    g.append('rect')
        .attr('x', p.left).attr('y', p.top)
        .attr('width', p.right - p.left).attr('height', p.bottom - p.top)
        .attr('fill', 'none').attr('stroke', '#777').attr('stroke-width', 1.5);

    // tick labels
    latTicks.forEach(v => {
        g.append('text').attr('x', x(v) - 2).attr('y', p.bottom + p.xTickDy)
            .attr('text-anchor', 'middle').attr('font-size', 25).attr('fill', '#333').text(v);
    });
    decades.forEach(v => {
        const t = g.append('text').attr('x', p.yLabelRight).attr('y', y(v) + 12)
            .attr('text-anchor', 'end').attr('font-size', 25).attr('fill', '#333');
        t.append('tspan').text('10');
        t.append('tspan').attr('dx', 4).attr('dy', -10).attr('font-size', 22).text(Math.round(Math.log10(v)));
    });

    g.append('text').attr('x', p.xLabelX).attr('y', p.xLabelY)
        .attr('text-anchor', 'middle').attr('font-size', 27).attr('fill', '#333')
        .attr('textLength', 91).attr('lengthAdjust', 'spacingAndGlyphs').text('Latitude');
    g.append('text')
        .attr('transform', 'translate(' + p.yTitleX + ',' + p.yTitleY + ') rotate(-90)')
        .attr('text-anchor', 'middle').attr('font-size', 27).attr('fill', '#333')
        .attr('textLength', 159).attr('lengthAdjust', 'spacingAndGlyphs').text('Height [hPa]');
    g.append('text').attr('x', p.titleX).attr('y', p.titleY).attr('xml:space', 'preserve')
        .attr('font-size', 32.6).attr('fill', '#111').text(p.title);

    // contour labels
    const labels = g.append('g').attr('text-anchor', 'middle');
    (p.isoLabels || []).forEach(l => {
        labels.append('text')
            .attr('transform', 'translate(' + x(l[1]) + ',' + y(Math.pow(10, l[2])) + ') rotate(' + l[3] + ')')
            .attr('dy', '0.36em').attr('font-size', p.isoFont).attr('fill', p.isoLabelColor).text(l[0]);
    });
    (p.uLabels || []).forEach((l, i) => {
        const small = Math.abs(l[3]) === 90 || l[3] === -10;
        const size = i < 3 ? p.uFontTop : (small ? p.uFontSmall : p.uFont);
        labels.append('text')
            .attr('transform', 'translate(' + x(l[1]) + ',' + y(Math.pow(10, l[2])) + ') rotate(' + l[3] + ')')
            .attr('dy', '0.36em').attr('font-size', size).attr('fill', '#000').text(l[0]);
    });
    (p.peaks || []).forEach(l => {
        labels.append('text')
            .attr('transform', 'translate(' + x(l[1]) + ',' + y(Math.pow(10, l[2])) + ')')
            .attr('dy', '0.36em').attr('font-size', 15).attr('font-weight', 'bold')
            .attr('fill', l[3]).text(l[0]);
    });

    // colour bar
    const bar = g.append('g');
    const cb = d3.scaleLinear().domain(p.barDomain).range([p.bottom, p.top]);
    const step = (p.barDomain[1] - p.barDomain[0]) / p.barColors.length;
    bar.selectAll('rect')
        .data(p.barColors)
        .enter().append('rect')
        .attr('x', p.barX).attr('width', 18)
        .attr('y', (d, i) => cb(p.barDomain[0] + (i + 1) * step))
        .attr('height', (d, i) => cb(p.barDomain[0] + i * step) - cb(p.barDomain[0] + (i + 1) * step) + 0.5)
        .attr('fill', d => d);
    bar.append('rect').attr('x', p.barX).attr('y', p.top).attr('width', 18).attr('height', p.bottom - p.top)
        .attr('fill', 'none').attr('stroke', '#777').attr('stroke-width', 1);
    const barAxis = bar.append('g').attr('transform', 'translate(' + (p.barX + 18) + ',0)')
        .call(d3.axisRight(cb).tickValues(p.barTicks).tickSize(-3).tickPadding(7).tickFormat(d => String(d)));
    barAxis.select('.domain').remove();
    barAxis.selectAll('text').attr('font-size', 21).attr('fill', '#333')
        .attr('font-family', '"Liberation Sans", Arial, sans-serif');
    barAxis.selectAll('.tick line').attr('stroke', '#666');
}

drawPanel({
    id: 'a', title: 'a) ym MOD', titleX: 108, titleY: 36,
    left: 96.7, right: 546, top: 49.5, bottom: 563, xTickDy: 17,
    yLabelRight: 90, yTitleX: 31, yTitleY: 317, xLabelX: 313, xLabelY: 631,
    fill: tempFillA, iso: tempA, isoLevels: tempThresholds.slice(1, 10), isoExtra: isoExtraA,
    isoColor: '#fff', isoWidth: 1.2, isoLabels: tLabelsA, isoLabelColor: '#fff', isoFont: 14,
    uLines: uLinesA, uWidth: 2, uLabels: uLabelsA, uFont: 20, uFontTop: 20, uFontSmall: 15,
    barX: 555, barDomain: [180, 300], barColors: tempBands, barTicks: tempTicks
});
drawPanel({
    id: 'b', title: 'b) ym wMOD', titleX: 741, titleY: 34,
    left: 728.3, right: 1180, top: 49.5, bottom: 563, xTickDy: 17,
    yLabelRight: 723, yTitleX: 664, yTitleY: 317, xLabelX: 947, xLabelY: 631,
    fill: tempB, iso: tempB, isoLevels: tempThresholds.slice(2, 10), isoExtra: isoExtraB,
    isoColor: '#fff', isoWidth: 1.2, isoLabels: tLabelsB, isoLabelColor: '#fff', isoFont: 14,
    uLines: uLinesB, uWidth: 2, uLabels: uLabelsB, uFont: 20, uFontTop: 20, uFontSmall: 15,
    barX: 1188, barDomain: [180, 300], barColors: tempBands, barTicks: tempTicks
});
drawPanel({
    id: 'c', title: 'c) T ym MOD-wMOD', titleX: 108, titleY: 720,
    left: 101.3, right: 546, top: 733.3, bottom: 1242.3, xTickDy: 12,
    yLabelRight: 90, yTitleX: 31, yTitleY: 999, xLabelX: 316, xLabelY: 1315,
    patches: diffPatchesT, baseBand: 5, iso: tempA, isoLevels: tempThresholds.slice(1, 10), isoExtra: isoExtraA,
    isoColor: '#000', isoWidth: 1.8, isoLabels: tLabelsC, isoLabelColor: '#222', isoFont: 14,
    peaks: [['2.5', -80.2, 1.04, '#000']],
    barX: 555, barDomain: [-6, 6], barColors: diffBands, barTicks: diffTicksT
});
// the outer -20 contour is not drawn in panel d, only the two inner pieces
drawPanel({
    id: 'd', title: 'd)  U ym MOD-wMOD', titleX: 741, titleY: 720,
    left: 734.3, right: 1179, top: 733.3, bottom: 1242.3, xTickDy: 12,
    yLabelRight: 723, yTitleX: 664, yTitleY: 999, xLabelX: 949, xLabelY: 1315,
    patches: diffPatchesU, baseBand: 6,
    uLines: uLinesA.filter(l => !(l[0] < 0 && l[2].length > 20)),
    uWidth: 1.8, uLabels: uLabelsD, uFont: 15, uFontTop: 18, uFontSmall: 12,
    peaks: [['2.2', -23.3, -0.02, '#000'], ['-9.0', -62.1, 0.21, '#fff']],
    barX: 1188, barDomain: [-10, 10], barColors: diffBands, barTicks: diffTicksU
});

svg.append('text').attr('x', 564).attr('y', 718).attr('text-anchor', 'middle')
    .attr('font-size', 23).attr('fill', '#333').text('K');
const unit = svg.append('text').attr('x', 1172).attr('y', 719).attr('font-size', 23).attr('fill', '#333');
unit.append('tspan').text('ms');
unit.append('tspan').attr('dx', 3).attr('dy', -12).attr('font-size', 20).text('-1');
</script>
</body>
</html>
